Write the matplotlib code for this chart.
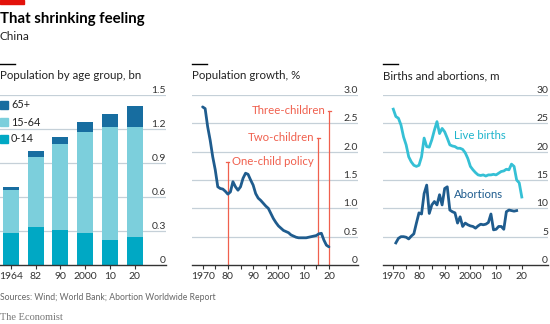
"""
Réplica del gráfico "That shrinking feeling" (China): población por edad,
crecimiento de la población y nacimientos/abortos.
"""
import matplotlib.pyplot as plt
from matplotlib.patches import Rectangle
from matplotlib.lines import Line2D
import matplotlib.transforms as mtransforms

plt.rcParams['font.family'] = ['Lato', 'DejaVu Sans']

# -------------------------------
# Datos
# -------------------------------
age_years = ["1964", "82", "90", "2000", "10", "20"]
age_0_14 = [0.28, 0.335, 0.31, 0.285, 0.218, 0.25]
age_15_64 = [0.38, 0.618, 0.755, 0.885, 0.997, 0.965]
age_65 = [0.025, 0.053, 0.065, 0.09, 0.12, 0.19]

growth_years = list(range(1970, 2021))
growth_pct = [2.79, 2.76, 2.44, 2.20, 1.91, 1.68, 1.38, 1.35, 1.34, 1.30,
              1.25, 1.29, 1.47, 1.38, 1.32, 1.38, 1.53, 1.62, 1.60, 1.50,
              1.41, 1.26, 1.18, 1.14, 1.09, 1.04, 1.00, 0.91, 0.82, 0.75,
              0.69, 0.65, 0.61, 0.59, 0.57, 0.53, 0.51, 0.49, 0.48, 0.48,
              0.48, 0.48, 0.49, 0.50, 0.51, 0.52, 0.55, 0.56, 0.44, 0.35,
              0.32]

policy_years = [1980, 2015.7, 2020.1]
policy_tops = [1.82, 2.25, 2.72]
policy_labels = ["One-child policy", "Two-children", "Three-children"]

births_years = list(range(1970, 2021))
live_births = [27.5, 26.2, 25.9, 24.7, 22.6, 21.2, 19.1, 18.2, 17.6, 17.4,
               17.6, 19.1, 22.4, 20.9, 20.8, 22.1, 23.8, 25.3, 23.2, 24.1,
               23.5, 22.4, 21.2, 21.0, 20.9, 20.6, 20.6, 20.4, 19.8, 18.8,
               17.4, 16.8, 16.3, 15.9, 15.8, 15.9, 15.7, 15.9, 15.9, 16.0,
               15.9, 16.2, 16.5, 16.6, 16.9, 16.8, 17.8, 17.4, 15.0, 14.5,
               12.0]

abort_years = list(range(1971, 2019))
abortions = [3.9, 4.7, 5.0, 5.0, 4.9, 4.6, 5.1, 5.5, 7.4,
             9.2, 9.0, 12.6, 14.1, 9.1, 10.6, 11.2, 10.6, 12.4, 10.6,
             13.5, 13.8, 9.7, 9.4, 9.2, 7.4, 8.5, 6.8, 7.4, 7.1,
             6.9, 6.8, 6.5, 6.9, 7.2, 7.1, 7.2, 7.5, 9.0, 6.2,
             6.3, 6.8, 6.8, 6.3, 9.4, 9.7, 9.6, 9.5, 9.6]

# -------------------------------
# Estilo
# -------------------------------
W, H = 550, 324
DARK = "#1f5c8e"
C65 = "#176da0"
C1564 = "#7ccfdc"
C014 = "#00a8c4"
BIRTH = "#35c0d5"
RED = "#f0604e"
GRID = "#c5d0d8"
TXT = "#222222"

fig = plt.figure(figsize=(W / 100, H / 100), dpi=100)


def px_axes(x0, x1, y_top, y_bot):
    return fig.add_axes([x0 / W, 1 - y_bot / H, (x1 - x0) / W, (y_bot - y_top) / H])


def style_axes(ax, yticks, fmt):
    for s in ax.spines.values():
        s.set_visible(False)
    ax.set_yticks([])
    trans = mtransforms.blended_transform_factory(ax.transAxes, ax.transData)
    for v in yticks:
        if v == 0:
            ax.axhline(0, color="#333333", lw=1.0, zorder=4, clip_on=False)
        else:
            ax.axhline(v, color=GRID, lw=0.9, zorder=0)
        ax.text(1.0, v, fmt(v), transform=trans, ha="right", va="bottom",
                fontsize=7.5, color="#333333")
    ax.tick_params(axis="x", length=3, width=0.8, color="#333333",
                   labelsize=7.5, labelcolor="#333333", pad=2)
    ax.tick_params(axis="x", which="minor", length=3, width=0.8, color="#333333")


def header(x, y, text):
    fig.add_artist(Line2D([x / W, (x + 15) / W], [1 - y / H, 1 - y / H],
                          color="black", lw=1.0))
    fig.text(x / W, 1 - 76 / H, text, fontsize=8.3, color=TXT, va="center")


# cabecera
fig.add_artist(Rectangle((0, 1 - 4 / H), 24 / W, 4 / H, color="#e3120b",
                         transform=fig.transFigure))
fig.text(0, 1 - 19 / H, "That shrinking feeling", fontsize=10.8,
         fontweight="bold", color="black", va="center")
fig.text(0, 1 - 37 / H, "China", fontsize=8.5, color=TXT, va="center")

# -------------------------------
# Panel 1: población por grupo de edad
# -------------------------------
ax1 = px_axes(0, 166, 95, 265)
xs = list(range(len(age_years)))
b1 = [a + b for a, b in zip(age_0_14, age_15_64)]
ax1.bar(xs, age_0_14, width=0.65, color=C014, zorder=2)
ax1.bar(xs, age_15_64, bottom=age_0_14, width=0.65, color=C1564, zorder=2)
ax1.bar(xs, age_65, bottom=b1, width=0.65, color=C65, zorder=2)
ax1.set_xlim(-0.445, 6.27)
ax1.set_ylim(0, 1.5)
ax1.set_xticks(xs)
ax1.set_xticklabels(age_years)
style_axes(ax1, [0, 0.3, 0.6, 0.9, 1.2, 1.5],
           lambda v: "0" if v == 0 else f"{v:.1f}")
header(0, 64, "Population by age group, bn")

for yy, col, lab in [(105, C65, "65+"), (122, C1564, "15-64"), (139, C014, "0-14")]:
    fig.add_artist(Rectangle((0, 1 - (yy + 4) / H), 8 / W, 8 / H, color=col,
                             transform=fig.transFigure))
    fig.text(11 / W, 1 - yy / H, lab, fontsize=7.8, color=TXT, va="center")

# -------------------------------
# Panel 2: crecimiento de la población
# -------------------------------
ax2 = px_axes(192, 358, 95, 265)
ax2.plot(growth_years, growth_pct, color=DARK, lw=2.0, zorder=3,
         solid_capstyle="round")
for yr, top, lab in zip(policy_years, policy_tops, policy_labels):
    ax2.plot([yr, yr], [0, top], color=RED, lw=0.9, zorder=2)
    ax2.plot([yr - 0.6, yr + 0.6], [top, top], color=RED, lw=0.9, zorder=2)
    if lab.startswith("One"):
        ax2.text(yr + 1.5, top, lab, color=RED, fontsize=8.2, ha="left", va="center")
    else:
        ax2.text(yr - 1.5, top, lab, color=RED, fontsize=8.2, ha="right", va="center")
ax2.set_xlim(1965.8, 2031.5)
ax2.set_ylim(0, 3.0)
ax2.set_xticks([1970, 1980, 1990, 2000, 2010, 2020])
ax2.set_xticklabels(["1970", "80", "90", "2000", "10", "20"])
ax2.set_xticks([1975, 1985, 1995, 2005, 2015], minor=True)
style_axes(ax2, [0, 0.5, 1.0, 1.5, 2.0, 2.5, 3.0],
           lambda v: "0" if v == 0 else f"{v:.1f}")
header(192, 64, "Population growth, %")

# -------------------------------
# Panel 3: nacimientos y abortos
# -------------------------------
ax3 = px_axes(383, 548, 95, 265)
ax3.plot(births_years, live_births, color=BIRTH, lw=2.0, zorder=3)
ax3.plot(abort_years, abortions, color=DARK, lw=2.0, zorder=3)
ax3.text(1993.5, 22.8, "Live births", color="#1fb5cc", fontsize=8.2,
         ha="left", va="center")
ax3.text(1993.5, 12.4, "Abortions", color=DARK, fontsize=8.2,
         ha="left", va="center")
ax3.set_xlim(1966.0, 2030.2)
ax3.set_ylim(0, 30)
ax3.set_xticks([1970, 1980, 1990, 2000, 2010, 2020])
ax3.set_xticklabels(["1970", "80", "90", "2000", "10", "20"])
ax3.set_xticks([1975, 1985, 1995, 2005, 2015], minor=True)
style_axes(ax3, [0, 5, 10, 15, 20, 25, 30], lambda v: f"{v}")
header(383, 64, "Births and abortions, m")

# pie
fig.text(0, 1 - 297 / H, "Sources: Wind; World Bank; Abortion Worldwide Report",
         fontsize=6.2, color="#666666", va="center")
fig.text(0, 1 - 317 / H, "The Economist", fontsize=7.5, color="#777777",
         va="center", family=["Liberation Serif", "DejaVu Serif"])

fig.savefig("out.png", dpi=100)
